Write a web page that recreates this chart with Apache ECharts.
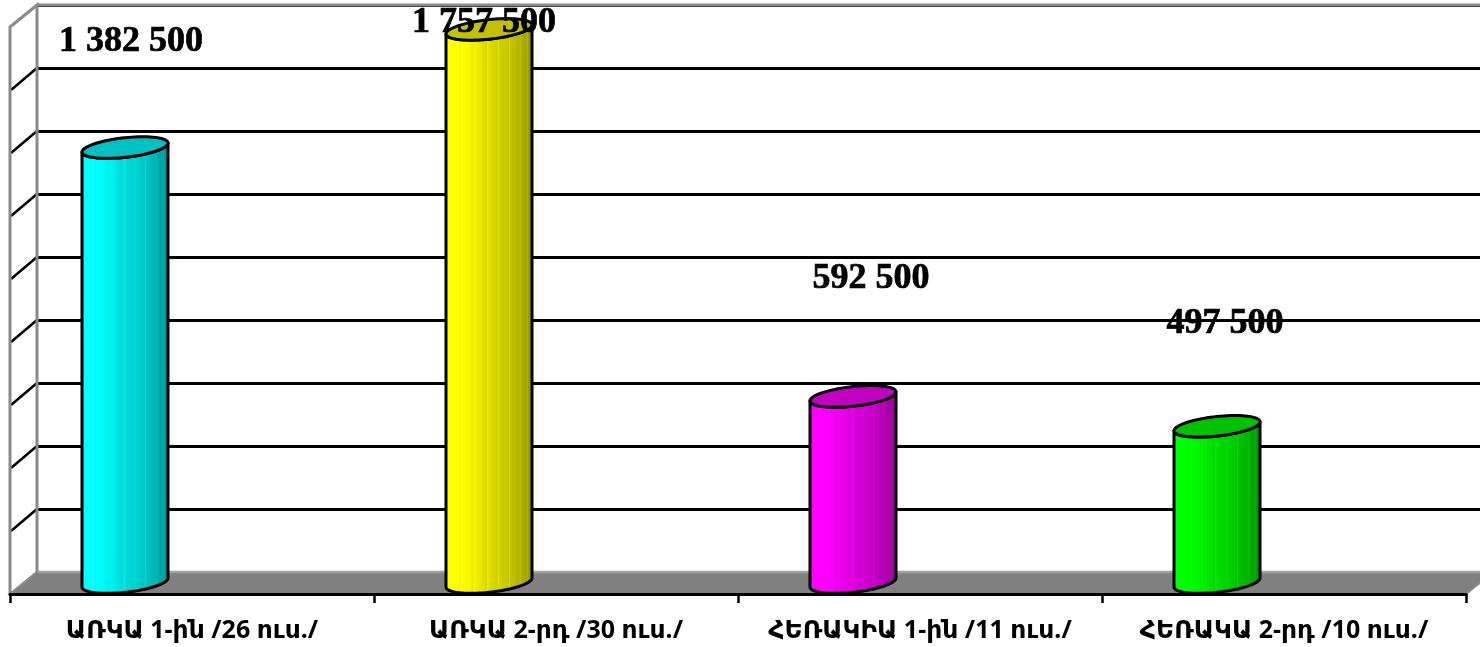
<!DOCTYPE html>
<html><head><meta charset="utf-8">
<style>html,body{margin:0;padding:0;background:#fff}#c{width:1480px;height:647px}</style>
<script src="https://cdn.jsdelivr.net/npm/echarts@6/dist/echarts.min.js"></script>
</head><body><div id="c"></div>
<script>
const categories = ['ԱՌԿԱ 1-ին /26 ուս./','ԱՌԿԱ 2-րդ /30 ուս./','ՀԵՌԱԿԻԱ 1-ին /11 ուս./','ՀԵՌԱԿԱ 2-րդ /10 ուս./'];
const values = [1382500,1757500,592500,497500];
const valueLabels = ['1 382 500','1 757 500','592 500','497 500'];
const baseColors = [[0,255,255],[255,255,0],[255,0,255],[0,255,0]];
const yMax = 1800000, yStep = 200000;
const gridTicks = [200000,400000,600000,800000,1000000,1200000,1400000,1600000];

// layout (not data)
const DEPTH_X = 27, DEPTH_Y = 22;
const BAR_HALF = 43, BAR_SHIFT = -67, TILT = 4.5, ELL_B = 9.8;
const labelShift = [[6,-106],[-5,-7],[18,-118],[8,-103]];

const chart = echarts.init(document.getElementById('c'), null, {renderer:'canvas'});
const rgb = (c,k)=>`rgb(${Math.round(c[0]*k)},${Math.round(c[1]*k)},${Math.round(c[2]*k)})`;
// ribbed cylinder shading
const ribStops = [[0,1],[.16,1],[.17,.94],[.18,1],[.3,.96],[.31,.9],[.33,.96],[.44,.88],[.47,.84],[.48,.92],[.52,.86],[.6,.82],[.61,.9],[.62,.82],[.72,.78],[.73,.86],[.74,.77],[.84,.7],[.85,.78],[.86,.69],[.92,.64],[.93,.72],[.94,.62],[1,.58]];
const bodyFill = c => new echarts.graphic.LinearGradient(0,0,1,0, ribStops.map(s=>({offset:s[0],color:rgb(c,s[1])})));

function ell(cx,cy,from,to,n){
  const pts=[];
  for(let i=0;i<=n;i++){
    const t=from+(to-from)*i/n;
    pts.push([cx+BAR_HALF*Math.cos(t), cy-TILT*Math.cos(t)+ELL_B*Math.sin(t)]);
  }
  return pts;
}

function renderWalls(params, api){
  const cs = params.coordSys;
  const L=cs.x, R=cs.x+cs.width, B=cs.y+cs.height, T=cs.y;
  const grey={stroke:'#8a8a8a',lineWidth:3,fill:null};
  const kids=[];
  // floor
  kids.push({type:'polygon',shape:{points:[[L,B],[L+DEPTH_X,B-DEPTH_Y],[R+DEPTH_X,B-DEPTH_Y],[R,B]]},style:{fill:'#808080',stroke:'#8a8a8a',lineWidth:2}});
  kids.push({type:'line',shape:{x1:L+DEPTH_X,y1:B-DEPTH_Y,x2:R+DEPTH_X,y2:B-DEPTH_Y},style:{stroke:'#a0a0a0',lineWidth:2.5}});
  // side wall grid diagonals
  gridTicks.forEach(v=>{
    const y=api.coord([0,v])[1];
    kids.push({type:'line',shape:{x1:L+1,y1:y,x2:L+DEPTH_X,y2:y-DEPTH_Y},style:{stroke:'#000',lineWidth:2.5}});
  });
  // wall frame
  kids.push({type:'polyline',shape:{points:[[L,B],[L,T],[L+DEPTH_X,T-DEPTH_Y],[L+DEPTH_X,B-DEPTH_Y]]},style:grey});
  kids.push({type:'line',shape:{x1:L+DEPTH_X,y1:T-DEPTH_Y,x2:R+DEPTH_X,y2:T-DEPTH_Y},style:{stroke:'#8a8a8a',lineWidth:3}});
  kids.push({type:'line',shape:{x1:L,y1:B,x2:L+DEPTH_X,y2:B-DEPTH_Y},style:{stroke:'#8a8a8a',lineWidth:2}});
  return {type:'group',children:kids};
}

function renderCyl(params, api){
  const i=api.value(0), v=api.value(1);
  const top=api.coord([i,v]), base=api.coord([i,0]);
  const cx=top[0]+BAR_SHIFT, ty=top[1]-DEPTH_Y/2, by=base[1]-DEPTH_Y/2-0.5;
  const c=baseColors[i];
  const body=ell(cx,by,0,Math.PI,40).concat(ell(cx,ty,Math.PI,0,40).slice(0));
  const cap=ell(cx,ty,0,Math.PI*2,80);
  return {type:'group',children:[
    {type:'polygon',shape:{points:body},style:{fill:bodyFill(c),stroke:'#000',lineWidth:3,lineJoin:'round'}},
    {type:'polygon',shape:{points:cap},style:{fill:rgb(c,.76),stroke:'#000',lineWidth:3}}
  ]};
}

function renderLabel(params, api){
  const i=api.value(0);
  const top=api.coord([i,api.value(1)]);
  const x=top[0]+BAR_SHIFT+labelShift[i][0], y=top[1]-DEPTH_Y/2+labelShift[i][1];
  return {type:'text',x:x,y:y,z2:10,style:{text:valueLabels[i],x:0,y:0,align:'center',verticalAlign:'middle',
    font:'bold 36px "Liberation Serif"',fill:'#000',stroke:'#000',lineWidth:0.7}};
}

const rows = values.map((v,i)=>[i,v]);
chart.setOption({
  animation:false,
  backgroundColor:'#fff',
  grid:[
    {left:10,right:14,top:27,bottom:53},
    {left:37,right:-13,top:5,bottom:75}
  ],
  xAxis:[
    {type:'category',gridIndex:0,data:categories,
      axisLine:{show:true,lineStyle:{color:'#000',width:3}},
      axisTick:{show:true,alignWithLabel:false,length:9,lineStyle:{color:'#000',width:2.5}},
      axisLabel:{interval:0,margin:24,color:'#000',fontWeight:'bold',fontSize:25,fontFamily:'"Noto Sans","DejaVu Sans",sans-serif'},
      z:5},
    {type:'category',gridIndex:1,data:categories,show:false}
  ],
  yAxis:[
    {type:'value',gridIndex:0,min:0,max:yMax,interval:yStep,axisLabel:{show:false},axisLine:{show:false},axisTick:{show:false},splitLine:{show:false}},
    {type:'value',gridIndex:1,min:0,max:yMax,interval:yStep,axisLabel:{show:false},axisLine:{show:false},axisTick:{show:false},
      splitLine:{show:true,lineStyle:{color:'#000',width:3}}}
  ],
  series:[
    {type:'custom',xAxisIndex:0,yAxisIndex:0,z:1,clip:false,silent:true,renderItem:renderWalls,data:[[0,0]]},
    {type:'custom',xAxisIndex:0,yAxisIndex:0,z:3,clip:false,silent:true,renderItem:renderCyl,data:rows,encode:{x:0,y:1}},
    {type:'custom',xAxisIndex:0,yAxisIndex:0,z:6,clip:false,silent:true,renderItem:renderLabel,data:rows,encode:{x:0,y:1}}
  ]
});
</script></body></html>
